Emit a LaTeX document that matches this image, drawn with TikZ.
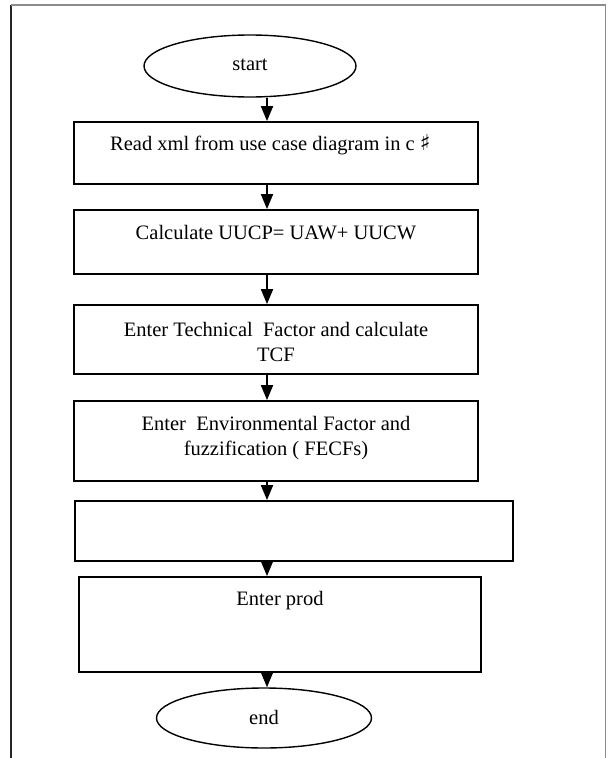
\documentclass[tikz,border=0pt]{standalone}
\usepackage{fontspec}
\setmainfont{Liberation Serif}
\newfontfamily\symfont{DejaVu Sans}
\usetikzlibrary{arrows.meta,shapes.geometric}
\begin{document}
\begin{tikzpicture}[x=1pt,y=-1pt,
  boxs/.style={draw, line width=1.8pt, rectangle, inner sep=0pt},
  ovals/.style={draw, line width=1.4pt, ellipse, inner sep=0pt},
  txt/.style={inner sep=0pt, align=center, font=\fontsize{20.5}{25}\selectfont},
  arr/.style={-{Triangle[width=12pt,length=15pt]}, line width=1.8pt}]
\useasboundingbox (0,0) rectangle (608,758);
% page frame
\draw[line width=1.6pt, black!85] (11,758) -- (11,5);
\draw[line width=1.4pt, black!45] (11,5) -- (605.5,5) -- (605.5,758);
% arrow axis
\coordinate (ax) at (267,0);
% nodes
\node[ovals, minimum width=212pt, minimum height=62pt] (start) at (250,66) {};
\node[txt] (tstart) at (250,65) {start};
\node[boxs, minimum width=404pt, minimum height=62pt] (b1) at (276,153) {};
\node[txt, anchor=west] (t1) at (110,145) {Read xml from use case diagram in c {\symfont\fontsize{22}{25}\selectfont ♯}};
\node[boxs, minimum width=404pt, minimum height=64pt] (b2) at (276,242) {};
\node[txt] (t2) at (276,233) {Calculate UUCP= UAW+ UUCW};
\node[boxs, minimum width=404pt, minimum height=69pt] (b3) at (276,339.5) {};
\node[txt] (t3) at (276,342) {Enter Technical\ \ Factor and calculate\\TCF};
\node[boxs, minimum width=404pt, minimum height=80pt] (b4) at (276,441) {};
\node[txt] (t4) at (276,438) {Enter\ \ Environmental Factor and\\fuzzification ( FECFs)};
\node[boxs, minimum width=438pt, minimum height=60pt] (b5) at (294,531) {};
\node[boxs, minimum width=402pt, minimum height=95pt] (b6) at (280,624.5) {};
\node[txt] (t6) at (280,601) {Enter prod};
\node[ovals, minimum width=215pt, minimum height=60pt] (end) at (264,718) {};
\node[txt] (tend) at (264,717) {end};
% connectors
\draw[arr] (start.south -| ax) -- (b1.north -| ax);
\draw[arr] (b1.south -| ax) -- (b2.north -| ax);
\draw[arr] (b2.south -| ax) -- (b3.north -| ax);
\draw[arr] (b3.south -| ax) -- (b4.north -| ax);
\draw[arr] (b4.south -| ax) -- (b5.north -| ax);
\draw[arr] (b5.south -| ax) -- (b6.north -| ax);
\draw[arr] (b6.south -| ax) -- (end.north -| ax);
\end{tikzpicture}
\end{document}
